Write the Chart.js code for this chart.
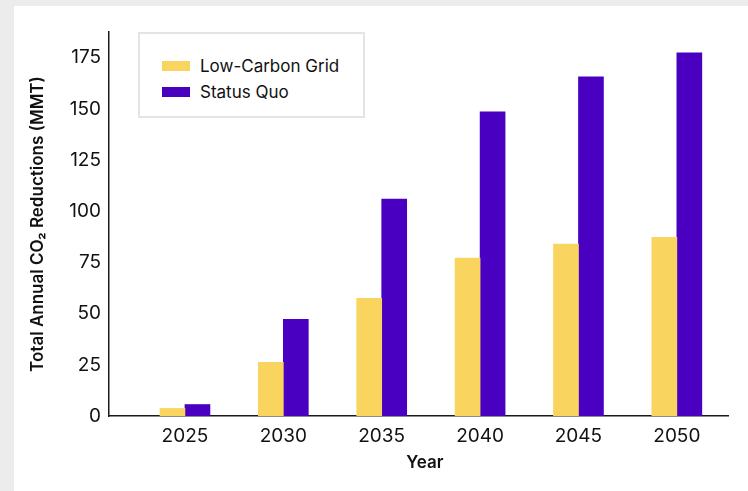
<!DOCTYPE html>
<html>
<head>
<meta charset="utf-8">
<script src="https://cdn.jsdelivr.net/npm/chart.js@4.4.1/dist/chart.umd.min.js"></script>
<style>
  html, body { margin: 0; padding: 0; background: #ececec; width: 748px; height: 491px; overflow: hidden; }
  #panel { position: absolute; left: 14px; top: 6px; width: 734px; height: 485px; background: #ffffff; }
  #chart { position: absolute; left: 0; top: 0; }
  #legend {
    position: absolute; left: 124px; top: 26px; width: 223px; height: 82px;
    border: 2px solid #e4e4e4; background: #fff; box-sizing: content-box;
    font-family: Inter, "Liberation Sans", sans-serif; font-size: 17px; color: #111;
  }
  #legend .row { position: absolute; left: 22px; height: 20px; display: flex; align-items: center; }
  #legend .sw { width: 28px; height: 10px; margin-right: 10px; }
</style>
</head>
<body>
<div id="panel">
  <canvas id="chart" width="734" height="485"></canvas>
  <div id="legend"></div>
</div>
<script>
// Years on the x axis and the two scenarios (million metric tons CO2)
const years = [2025, 2030, 2035, 2040, 2045, 2050];
const lowCarbonGrid = [3.7, 26.2, 57.5, 77.1, 83.9, 87.3];
const statusQuo = [5.6, 47.2, 105.9, 148.5, 165.6, 177.3];
const seriesNames = ['Low-Carbon Grid', 'Status Quo'];
const seriesColors = ['#f9d55f', '#4a00c1'];
const yTicks = [0, 25, 50, 75, 100, 125, 150, 175];

const FONT = 'Inter, "Liberation Sans", sans-serif';

const toPoints = vals => years.map((yr, i) => ({ x: yr, y: vals[i] }));

const chart = new Chart(document.getElementById('chart'), {
  type: 'bar',
  data: {
    datasets: [
      { label: seriesNames[0], data: toPoints(lowCarbonGrid), backgroundColor: seriesColors[0], barThickness: 25 },
      { label: seriesNames[1], data: toPoints(statusQuo), backgroundColor: seriesColors[1], barThickness: 25 }
    ]
  },
  options: {
    responsive: false,
    devicePixelRatio: 1,
    animation: false,
    layout: { padding: { top: 26, right: 20, left: 0, bottom: 0 } },
    plugins: { legend: { display: false }, tooltip: { enabled: false } },
    scales: {
      x: {
        type: 'linear',
        offset: false,
        min: 2021.14,
        max: 2052.6,
        afterBuildTicks: s => { s.ticks = years.map(v => ({ value: v })); },
        afterFit: s => { s.height = 75; },
        grid: { display: false, drawTicks: false },
        border: { display: true, color: '#1a1a1a', width: 1.5 },
        ticks: {
          padding: 9,
          color: '#111',
          font: { family: FONT, size: 19 },
          callback: v => String(v)
        },
        title: {
          display: true, text: '   Year', color: '#111',
          font: { family: FONT, size: 17, weight: '600' },
          padding: { top: 18, bottom: 18 }
        }
      },
      y: {
        min: 0,
        max: 187.5,
        afterBuildTicks: s => { s.ticks = yTicks.map(v => ({ value: v })); },
        afterFit: s => { s.width = 95; },
        grid: { display: false, drawTicks: false },
        border: { display: true, color: '#1a1a1a', width: 1.5 },
        ticks: {
          padding: 8,
          color: '#111',
          font: { family: FONT, size: 19 }
        },
        title: {
          display: true, text: 'Total Annual CO₂ Reductions (MMT)', color: '#111',
          font: { family: FONT, size: 17, weight: '600' },
          padding: { top: 14, bottom: 14 }
        }
      }
    }
  }
});

// Legend box drawn from the dataset names and colours
const legend = document.getElementById('legend');
chart.data.datasets.forEach((ds, i) => {
  const row = document.createElement('div');
  row.className = 'row';
  row.style.top = (22 + i * 26) + 'px';
  const sw = document.createElement('span');
  sw.className = 'sw';
  sw.style.background = ds.backgroundColor;
  const tx = document.createElement('span');
  tx.textContent = ds.label;
  row.appendChild(sw);
  row.appendChild(tx);
  legend.appendChild(row);
});
</script>
</body>
</html>
